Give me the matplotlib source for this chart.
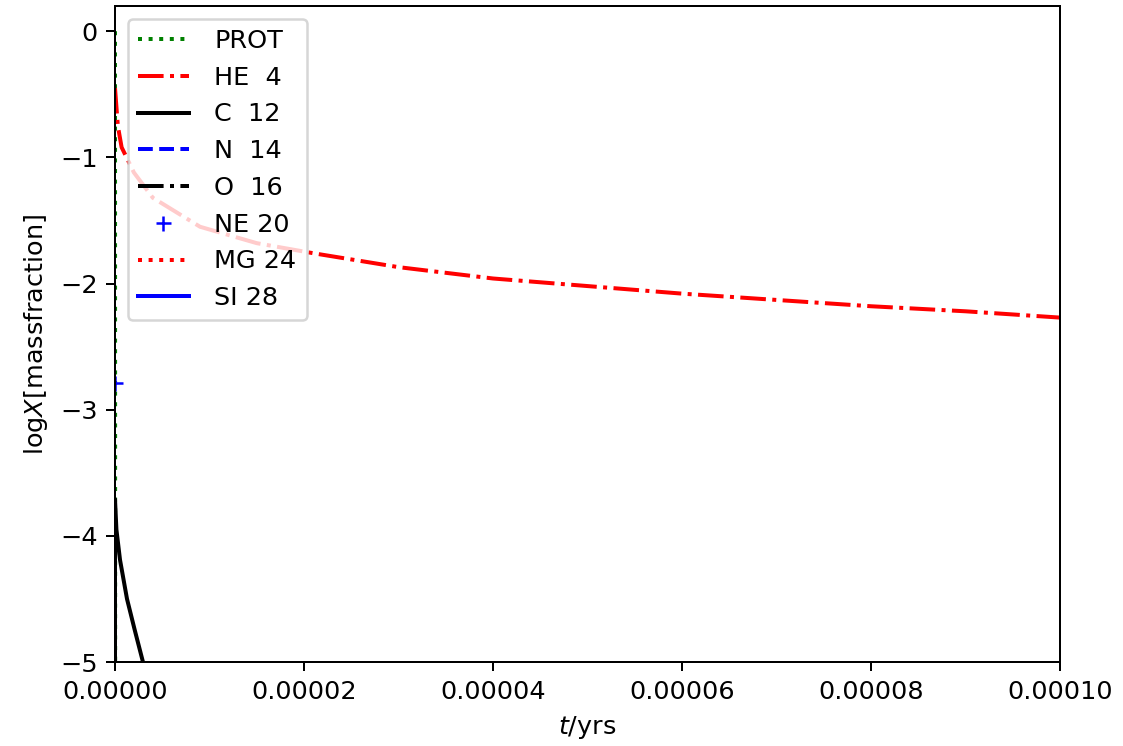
import matplotlib
matplotlib.use('Agg')
import matplotlib.pyplot as plt
import numpy as np

# time in years, log mass fraction
t_prot = [0.0, 1e-8, 2e-8]
x_prot = [0.0, -3.0, -6.0]

t_he4 = [0.0, 0.03e-5, 0.07e-5, 0.2e-5, 0.4e-5, 0.9e-5, 1.5e-5, 2.1e-5,
         3e-5, 4e-5, 5e-5, 6e-5, 7e-5, 8e-5, 9e-5, 10e-5]
x_he4 = [-0.45, -0.75, -0.92, -1.12, -1.32, -1.55, -1.68, -1.76,
         -1.87, -1.96, -2.02, -2.08, -2.13, -2.18, -2.22, -2.27]

t_c12 = [0.0, 0.0, 0.15e-6, 0.53e-6, 1.27e-6, 2.1e-6, 2.96e-6, 3.5e-6]
x_c12 = [-6.0, -3.71, -3.95, -4.19, -4.5, -4.75, -5.0, -5.1]

t_n14 = [0.0, 1e-4]
x_n14 = [-8.0, -8.0]

t_o16 = [0.0, 0.0]
x_o16 = [-6.0, -3.75]

t_ne20 = [0.0]
x_ne20 = [-2.79]

t_mg24 = [0.0, 1e-4]
x_mg24 = [-8.0, -8.0]

t_si28 = [0.0, 1e-4]
x_si28 = [-8.0, -8.0]

plt.rcParams['font.size'] = 10.2
plt.rcParams['lines.linewidth'] = 1.6

fig = plt.figure(figsize=(1123/180, 746/180), dpi=180)
ax = fig.add_axes([115/1123, 1 - 662/746, (1060-115)/1123, (662-6)/746])

ax.plot(t_prot, x_prot, 'g:', label='PROT')
ax.plot(t_he4, x_he4, 'r-.', label='HE  4')
ax.plot(t_c12, x_c12, 'k-', label='C  12')
ax.plot(t_n14, x_n14, 'b--', label='N  14')
ax.plot(t_o16, x_o16, 'k-.', label='O  16')
ax.plot(t_ne20, x_ne20, 'b+', label='NE 20')
ax.plot(t_mg24, x_mg24, 'r:', label='MG 24')
ax.plot(t_si28, x_si28, 'b-', label='SI 28')

ax.set_xlim(0, 1e-4)
ax.set_ylim(-5, 0.2)
ax.set_xlabel(r'$t$/yrs')
ax.set_ylabel(r'log$X$[massfraction]')
ax.legend(loc='upper left', handletextpad=1.0, labelspacing=0.5)

plt.savefig('out.png', dpi=180)
